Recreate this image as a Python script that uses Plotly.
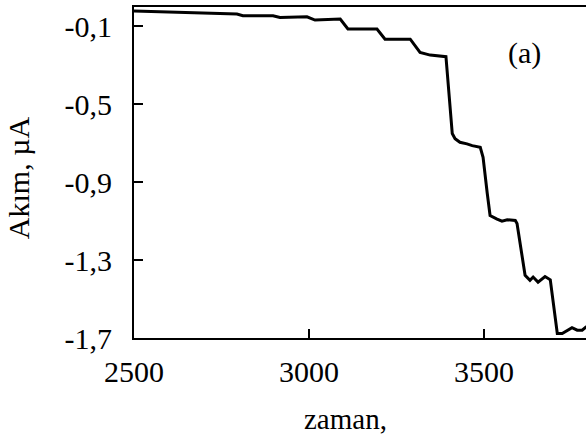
import plotly.graph_objects as go

zaman = [2500, 2611, 2709, 2794, 2811, 2897, 2917, 2994, 3017, 3089, 3111, 3194, 3217, 3289,
         3317, 3346, 3391, 3397, 3409, 3417, 3431, 3451, 3466, 3489, 3497, 3509, 3517, 3537,
         3551, 3566, 3589, 3594, 3609, 3617, 3631, 3640, 3654, 3674, 3689, 3700, 3709, 3723,
         3737, 3751, 3766, 3780, 3791, 3800]
akim = [-0.020, -0.025, -0.033, -0.036, -0.045, -0.045, -0.054, -0.050, -0.067, -0.062, -0.113,
        -0.113, -0.165, -0.165, -0.233, -0.247, -0.255, -0.394, -0.650, -0.676, -0.695, -0.703,
        -0.712, -0.721, -0.772, -0.958, -1.071, -1.089, -1.100, -1.093, -1.096, -1.112, -1.302,
        -1.378, -1.404, -1.387, -1.413, -1.384, -1.401, -1.558, -1.677, -1.677, -1.664, -1.647,
        -1.660, -1.660, -1.644, -1.645]

x_ticks = [2500, 3000, 3500]
y_ticks = [-1.7, -1.3, -0.9, -0.5, -0.1]
y_ticktext = ["-1,7", "-1,3", "-0,9", "-0,5", "-0,1"]

FONT = "Liberation Serif"

fig = go.Figure()
fig.add_trace(go.Scatter(x=zaman, y=akim, mode="lines",
                         line=dict(color="black", width=3), showlegend=False))

fig.update_layout(
    width=586, height=437,
    margin=dict(l=134, r=0, t=7, b=99),
    paper_bgcolor="white", plot_bgcolor="white",
    font=dict(family=FONT, size=30, color="black"),
    separators=",.",
    annotations=[
        dict(text="zaman,", xref="paper", yref="paper", x=0.469, y=-0.245,
             xanchor="center", yanchor="middle", showarrow=False,
             font=dict(family=FONT, size=29, color="black")),
        dict(text="Akım, µA", xref="paper", yref="paper", x=-0.255, y=0.485,
             xanchor="center", yanchor="middle", showarrow=False, textangle=-90,
             font=dict(family=FONT, size=30, color="black")),
        dict(text="(a)", xref="paper", yref="paper", x=0.863, y=0.861,
             xanchor="center", yanchor="middle", showarrow=False,
             font=dict(family=FONT, size=30, color="black")),
    ],
)
fig.update_xaxes(range=[2500, 3791], tickvals=x_ticks, ticks="inside", ticklen=9, tickwidth=2,
                 tickcolor="black", showline=True, linewidth=2, linecolor="black", mirror=True,
                 showgrid=False, zeroline=False, ticklabelstandoff=6,
                 tickfont=dict(family=FONT, size=30, color="black"))
fig.update_yaxes(range=[-1.7, 0.0], tickvals=y_ticks, ticktext=y_ticktext, ticks="inside",
                 ticklen=9, tickwidth=2, tickcolor="black", showline=True, linewidth=2,
                 linecolor="black", mirror=False, showgrid=False, zeroline=False,
                 ticklabelstandoff=14, tickfont=dict(family=FONT, size=30, color="black"))

fig.write_html("out.html")
